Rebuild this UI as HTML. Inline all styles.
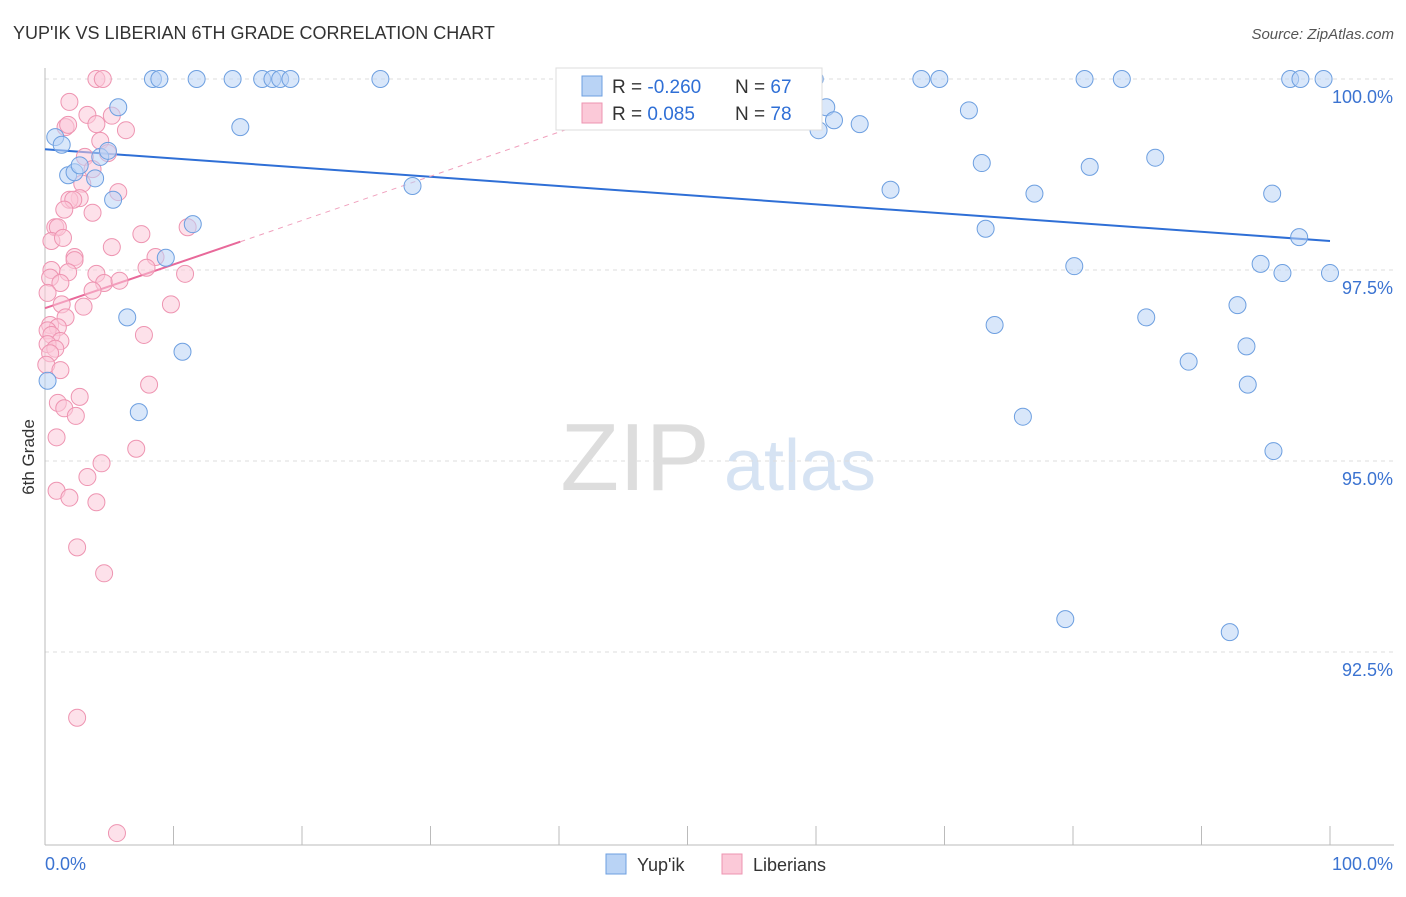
<!DOCTYPE html>
<html><head><meta charset="utf-8"><style>
body{margin:0;background:#fff;font-family:"Liberation Sans",sans-serif}
svg text{font-family:"Liberation Sans",sans-serif}
</style></head><body>
<svg id="chart" width="1406" height="892" viewBox="0 0 1406 892">
<text x="13" y="39" font-size="18" fill="#333">YUP'IK VS LIBERIAN 6TH GRADE CORRELATION CHART</text>
<text x="1394" y="39" font-size="15" fill="#555" font-style="italic" text-anchor="end">Source: ZipAtlas.com</text>
<text x="34" y="457" font-size="17" fill="#333" transform="rotate(-90 34 457)" text-anchor="middle">6th Grade</text>
<g id="watermark"><text x="635" y="490" font-size="96" fill="#ddd" text-anchor="middle" font-family="Liberation Serif">ZIP</text><text x="800" y="490" font-size="72" fill="#d6e3f3" text-anchor="middle">atlas</text></g>
<g id="grid"></g><g id="axes"></g><g id="lines"></g><g id="points"></g>
<g>
<rect x="556" y="68" width="266" height="62" fill="#fff" stroke="#ddd"/>
<rect x="582" y="76" width="20" height="20" fill="#b9d3f5" stroke="#6d9fe0"/>
<rect x="582" y="103" width="20" height="20" fill="#fbc9d8" stroke="#ee94b1"/>
<text x="612" y="93" font-size="19" fill="#333">R = <tspan fill="#2f6fd6">-0.260</tspan></text>
<text x="735" y="93" font-size="19" fill="#333">N = <tspan fill="#2f6fd6">67</tspan></text>
<text x="612" y="120" font-size="19" fill="#333">R =  <tspan fill="#2f6fd6">0.085</tspan></text>
<text x="735" y="120" font-size="19" fill="#333">N = <tspan fill="#2f6fd6">78</tspan></text>
</g>
<g>
<rect x="606" y="854" width="20" height="20" fill="#b9d3f5" stroke="#6d9fe0"/>
<text x="637" y="871" font-size="18" fill="#333">Yup'ik</text>
<rect x="722" y="854" width="20" height="20" fill="#fbc9d8" stroke="#ee94b1"/>
<text x="753" y="871" font-size="18" fill="#333">Liberians</text>
</g>
</svg>
<script>
const yTicks=[100,97.5,95,92.5];
const yTickLabels=["100.0%","97.5%","95.0%","92.5%"];
const xTickLabels=["0.0%","100.0%"];
const blueX=[0.8,1.3,1.8,2.3,2.7,3.9,4.3,4.9,5.3,5.7,8.4,8.9,11.8,14.6,16.9,17.7,18.3,19.1,26.1,15.2,28.6,11.5,9.4,6.4,10.7,7.3,0.2,41.6,49.9,59.9,60.8,60.2,61.4,63.4,68.2,69.6,71.9,65.8,72.9,73.2,73.9,77.0,76.1,79.4,80.1,80.9,81.3,83.8,85.7,86.4,89.0,92.2,92.8,93.5,93.6,94.6,95.5,95.6,96.3,96.9,97.7,97.6,99.5,100];
const blueY=[99.24,99.14,98.74,98.78,98.87,98.70,98.98,99.06,98.42,99.63,100,100,100,100,100,100,100,100,100,99.37,98.6,98.1,97.66,96.88,96.43,95.64,96.05,100,100,100,99.63,99.33,99.46,99.41,100,100,99.59,98.55,98.9,98.04,96.78,98.5,95.58,92.93,97.55,100,98.85,100,96.88,98.97,96.3,92.76,97.04,96.5,96.0,97.58,98.5,95.13,97.46,100,100,97.93,100,97.46];
const pinkX=[4.0,4.5,1.9,5.2,3.3,1.6,1.8,4.0,6.3,4.3,3.1,4.9,3.7,2.9,2.7,1.9,2.2,5.7,1.5,3.7,0.8,1.0,0.5,1.4,5.2,7.5,11.1,2.3,2.3,8.6,0.5,1.8,4.0,0.4,4.6,5.8,7.9,10.9,1.2,0.2,3.7,1.3,3.0,9.8,1.6,0.4,1.0,0.2,0.5,1.2,7.7,0.2,0.8,0.4,0.1,1.2,8.1,2.7,1.0,1.5,2.4,0.9,7.1,4.4,3.3,0.9,1.9,4.0,2.5,4.6,2.5,5.6];
const pinkY=[100,100,99.70,99.52,99.53,99.37,99.40,99.41,99.33,99.19,98.98,99.03,98.82,98.63,98.44,98.42,98.42,98.52,98.29,98.25,98.06,98.06,97.88,97.92,97.80,97.97,98.06,97.67,97.63,97.67,97.50,97.47,97.45,97.40,97.33,97.36,97.53,97.45,97.33,97.20,97.23,97.05,97.02,97.05,96.88,96.78,96.75,96.71,96.65,96.57,96.65,96.53,96.47,96.41,96.26,96.19,96.0,95.84,95.76,95.69,95.59,95.31,95.16,94.97,94.79,94.61,94.52,94.46,93.87,93.53,91.64,90.13];
const blueTrend=[[0,99.08],[100,97.88]];
const pinkTrend=[[0,97.0],[15.2,97.87]];
const pinkDash=[[15.2,97.87],[52,100]];

const NS="http://www.w3.org/2000/svg";
const X=v=>45+v*12.85;
const Y=v=>79+(100-v)*76.4;
function mk(t,a,p){const e=document.createElementNS(NS,t);for(const k in a)e.setAttribute(k,a[k]);document.getElementById(p).appendChild(e);return e;}
yTicks.forEach((t,i)=>{
 const g=mk('line',{x1:45,x2:1394,y1:Y(t),y2:Y(t),stroke:'#ddd','stroke-dasharray':'4,4'},'grid');
 
 
 const l=mk('text',{x:1393,y:Y(t)+24,'font-size':18,fill:'#3b73d1','text-anchor':'end'},'axes');
 l.textContent=yTickLabels[i];
 
 
});
const ax=mk('line',{x1:45,x2:1394,y1:845,y2:845,stroke:'#bbb'},'axes');


const ay=mk('line',{x1:45,x2:45,y1:68,y2:845,stroke:'#bbb'},'axes');


for(let i=0;i<=10;i++){
 const t=mk('line',{x1:X(i*10),x2:X(i*10),y1:826,y2:845,stroke:'#bbb'},'axes');
 
 
}
[[0,'start',45],[100,'end',1393]].forEach(([v,a,x],i)=>{
 const l=mk('text',{x:x,y:870,'font-size':18,fill:'#3b73d1','text-anchor':a},'axes');
 l.textContent=xTickLabels[i];
 
 
});
function pts(xs,ys,fill,stroke,name){xs.forEach((x,i)=>{
 const c=mk('circle',{cx:X(x),cy:Y(ys[i]),r:8.5,fill:fill,stroke:stroke,'fill-opacity':0.55,'stroke-width':1},'points');
 
 
});}
pts(pinkX,pinkY,'#fbc9d8','#ee94b1','liberian-point');
pts(blueX,blueY,'#b9d3f5','#6d9fe0','yupik-point');
const bl=mk('line',{x1:X(blueTrend[0][0]),y1:Y(blueTrend[0][1]),x2:X(blueTrend[1][0]),y2:Y(blueTrend[1][1]),stroke:'#2f6fd6','stroke-width':2},'lines');


const pl=mk('line',{x1:X(pinkTrend[0][0]),y1:Y(pinkTrend[0][1]),x2:X(pinkTrend[1][0]),y2:Y(pinkTrend[1][1]),stroke:'#e8699a','stroke-width':2},'lines');


const pd=mk('line',{x1:X(pinkDash[0][0]),y1:Y(pinkDash[0][1]),x2:X(pinkDash[1][0]),y2:Y(pinkDash[1][1]),stroke:'#f0a0bd','stroke-width':1,'stroke-dasharray':'5,5'},'lines');


</script>
</body></html>
